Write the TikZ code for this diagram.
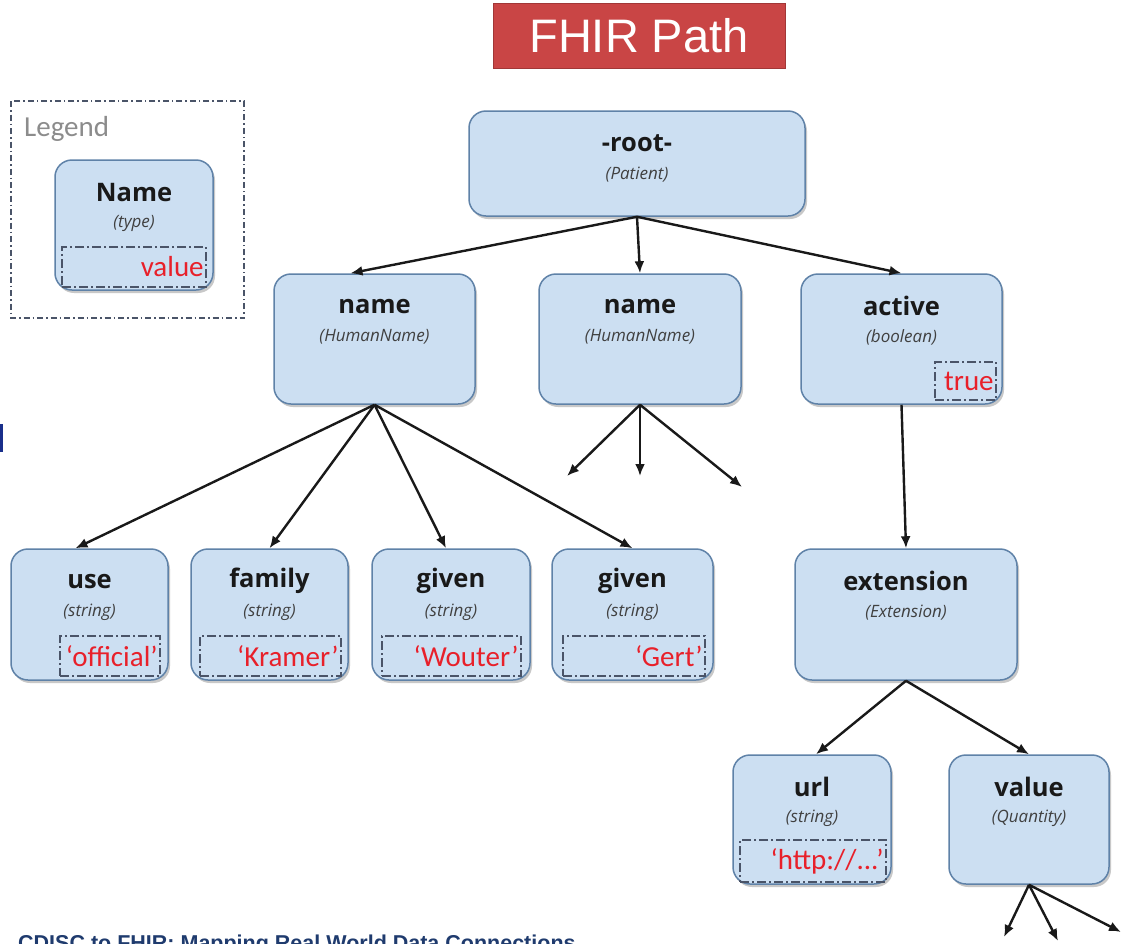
\documentclass[tikz,border=0pt]{standalone}
\usepackage{fontspec}
\setmainfont{Open Sans}
\newfontfamily\calibri{Carlito}
\newfontfamily\arial{Liberation Sans}
\usetikzlibrary{arrows.meta,shadows,calc}

\definecolor{boxfill}{HTML}{CCDFF2}
\definecolor{boxline}{HTML}{5F82A8}
\definecolor{valred}{HTML}{E8202A}
\definecolor{dashgray}{HTML}{4A5468}
\definecolor{titlered}{HTML}{C94545}
\definecolor{footblue}{HTML}{1F3B6E}

\tikzset{
  field/.style={draw=boxline, line width=1.5pt, fill=boxfill, rounded corners=17pt,
    drop shadow={shadow xshift=2pt, shadow yshift=-3pt, opacity=0.3, fill=black!70}},
  titletext/.style={font=\fontsize{25.5}{27}\selectfont\bfseries, text=black!90, inner sep=0pt},
  typetext/.style={font=\fontsize{17}{19}\selectfont\itshape, text=black!75, inner sep=0pt},
  valbox/.style={draw=dashgray, line width=1.7pt, dash pattern=on 9pt off 3pt on 2pt off 3pt, inner sep=0pt},
  valtext/.style={font=\calibri\fontsize{29}{31}\selectfont, text=valred, inner sep=0pt, anchor=east},
  link/.style={draw=black!90, line width=2.4pt, -{Latex[length=12pt,width=10pt]}},
}

% a field box with its name and type
\newcommand\mkfield[7]{%
  \node[field, minimum width=#4pt, minimum height=#5pt] (#1) at (#2,#3) {};
  \node[titletext] (#1-t) at ($(#1.north)+(0,33)$) {#6};
  \node[typetext] (#1-y) at ($(#1.north)+(0,64)$) {#7};
}
% a dashed value slot with its right-aligned value
\newcommand\mkvalue[6]{%
  \node[valbox, minimum width=#4pt, minimum height=#5pt] (#1) at (#2,#3) {};
  \node[valtext] (#1-x) at ($(#1.east)+(-3,0)$) {#6};
}

\begin{document}
\begin{tikzpicture}[x=1pt,y=-1pt]
\clip (0,0) rectangle (1124,943);
\fill[white] (0,0) rectangle (1124,943);

% heading
\node[fill=titlered, draw=titlered!80!black, line width=0.6pt, minimum width=292pt, minimum height=65pt,
      inner sep=0pt, text=white, font=\arial\fontsize{47}{49}\selectfont] (head) at (639,35.5) {FHIR Path};

% legend
\draw[dashgray, line width=1.4pt, dash pattern=on 6pt off 3pt on 1.5pt off 3pt] (11,101) rectangle (244,318);
\node[font=\calibri\fontsize{29}{31}\selectfont, text=black!45, anchor=west, inner sep=0pt] (legend) at (24,129) {Legend};
\mkfield{lg}{134}{225}{158}{130}{Name}{(type)}
\mkvalue{lgv}{134}{267}{144}{40}{value}

% tree
\mkfield{root}{637}{163.5}{336}{105}{-root-}{(Patient)}
\mkfield{nameA}{374.5}{339}{201}{130}{name}{(HumanName)}
\mkfield{nameB}{640}{339}{202}{130}{name}{(HumanName)}
\mkfield{active}{901.5}{339}{201}{130}{active}{(boolean)}
\mkvalue{activev}{965.5}{381}{61}{38}{true}

\mkfield{use}{89.5}{614.5}{157}{131}{use}{(string)}
\mkvalue{usev}{110}{656}{100}{40}{‘official’}
\mkfield{family}{269.5}{614.5}{157}{131}{family}{(string)}
\mkvalue{familyv}{270.5}{656}{141}{40}{‘Kramer’}
\mkfield{givenA}{451}{614.5}{158}{131}{given}{(string)}
\mkvalue{givenAv}{451.5}{656}{139}{40}{‘Wouter’}
\mkfield{givenB}{632.5}{614.5}{161}{131}{given}{(string)}
\mkvalue{givenBv}{634}{656}{142}{40}{‘Gert’}

\mkfield{ext}{906}{614.5}{222}{131}{extension}{(Extension)}
\mkfield{url}{812}{819.5}{158}{129}{url}{(string)}
\mkvalue{urlv}{813}{861}{146}{42}{‘http://...’}
\mkfield{val}{1029}{819.5}{160}{129}{value}{(Quantity)}

% open ends of children that are not drawn
\coordinate (nbA) at (567,476);
\coordinate (nbB) at (640,476);
\coordinate (nbC) at (742,487);
\coordinate (vA) at (1004,937);
\coordinate (vB) at (1058,941);
\coordinate (vC) at (1121,932);

% connectors
\draw[link] (root.south) -- ($(nameA.north)+(-24,0)$);
\draw[link] (root.south) -- (nameB.north);
\draw[link] (root.south) -- (active.north);
\draw[link] (nameA.south) -- ($(use.north)+(-14,0)$);
\draw[link] (nameA.south) -- (family.north);
\draw[link] (nameA.south) -- ($(givenA.north)+(-5,0)$);
\draw[link] (nameA.south) -- (givenB.north);
\draw[link] (nameB.south) -- (nbA);
\draw[link] (nameB.south) -- (nbB);
\draw[link] (nameB.south) -- (nbC);
\draw[link] (active.south) -- (ext.north);
\draw[link] (ext.south) -- ($(url.north)+(4,0)$);
\draw[link] (ext.south) -- (val.north);
\draw[link] (val.south) -- (vA);
\draw[link] (val.south) -- (vB);
\draw[link] (val.south) -- (vC);

% slide edge remnants
\fill[footblue!80!blue] (0,424) rectangle (3,452);
\node[font=\arial\fontsize{21.5}{23}\selectfont\bfseries, text=footblue, anchor=north west, inner sep=0pt] (foot) at (18,935) {CDISC to FHIR: Mapping Real World Data Connections};
\end{tikzpicture}
\end{document}
